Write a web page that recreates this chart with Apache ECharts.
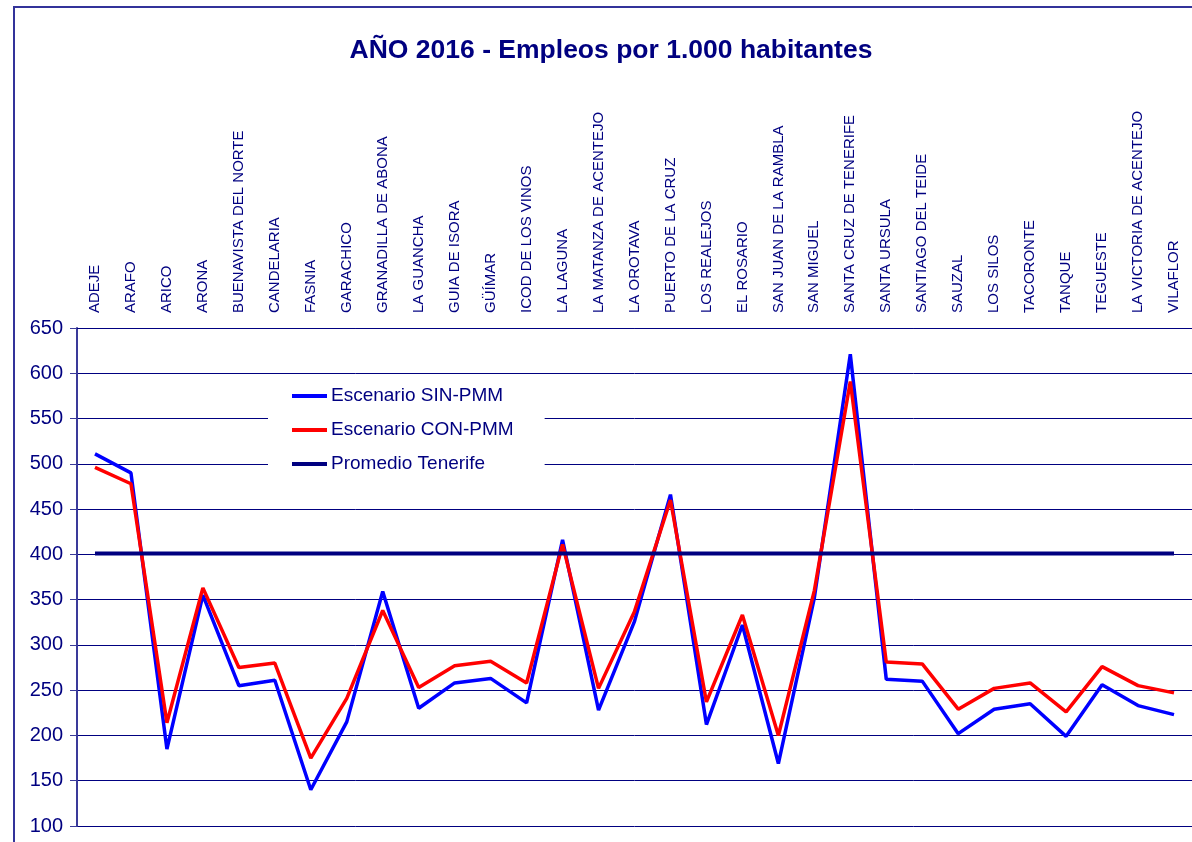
<!DOCTYPE html>
<html>
<head>
<meta charset="utf-8">
<script src="https://cdn.jsdelivr.net/npm/echarts@6/dist/echarts.min.js"></script>
<style>
html,body{margin:0;padding:0;background:#fff;}
#chart{width:1192px;height:842px;}
</style>
</head>
<body>
<div id="chart"></div>
<script>
const categories = ["ADEJE","ARAFO","ARICO","ARONA","BUENAVISTA DEL NORTE","CANDELARIA","FASNIA","GARACHICO","GRANADILLA DE ABONA","LA GUANCHA","GUIA DE ISORA","GÜÍMAR","ICOD DE LOS VINOS","LA LAGUNA","LA MATANZA DE ACENTEJO","LA OROTAVA","PUERTO DE LA CRUZ","LOS REALEJOS","EL ROSARIO","SAN JUAN DE LA RAMBLA","SAN MIGUEL","SANTA CRUZ DE TENERIFE","SANTA URSULA","SANTIAGO DEL TEIDE","SAUZAL","LOS SILOS","TACORONTE","TANQUE","TEGUESTE","LA VICTORIA DE ACENTEJO","VILAFLOR"];
const sinPMM = [511,490,185,355,255,261,140,215,359,230,258,263,236,416,228,326,466,212,322,169,352,621,262,260,202,229,235,199,256,233,223];
const conPMM = [496,478,214,363,275,280,175,241,338,253,277,282,258,411,252,337,460,237,333,200,360,591,281,279,229,252,258,226,276,255,247];
const promedioTenerife = 401;
const promedio = categories.map(() => promedioTenerife);
const seriesNames = ["Escenario SIN-PMM","Escenario CON-PMM","Promedio Tenerife"];
const titleText = "AÑO 2016 - Empleos por 1.000 habitantes";

const navy = '#000080';
const font = "'Liberation Sans', Arial, sans-serif";
const chart = echarts.init(document.getElementById('chart'), null, {renderer: 'canvas'});
chart.setOption({
  animation: false,
  backgroundColor: '#fff',
  title: {
    text: titleText,
    left: 606,
    textAlign: 'center',
    top: 32,
    textStyle: {color: navy, fontFamily: font, fontWeight: 'bold', fontSize: 26.5}
  },
  graphic: [{
    type: 'rect', z: 100, silent: true,
    shape: {x: 14, y: 7, width: 1300, height: 1000},
    style: {fill: 'none', stroke: '#33339a', lineWidth: 2}
  }],
  legend: {
    data: seriesNames,
    orient: 'vertical',
    left: 268, top: 375,
    backgroundColor: '#fff',
    padding: [11, 31, 10, 24],
    itemGap: 14,
    itemWidth: 35, itemHeight: 4,
    icon: 'rect',
    textStyle: {color: navy, fontFamily: font, fontSize: 19, lineHeight: 20, padding: [0,0,0,-1]},
    z: 10
  },
  grid: {left: 77, top: 328, bottom: 16, width: 1116, containLabel: false},
  xAxis: {
    type: 'category',
    position: 'top',
    data: categories,
    boundaryGap: true,
    axisLine: {show: true, lineStyle: {color: navy, width: 1}},
    axisTick: {show: false},
    axisLabel: {rotate: -90, interval: 0, margin: 15, color: navy, fontFamily: font, fontSize: 15}
  },
  yAxis: {
    type: 'value', min: 100, max: 650, interval: 50,
    axisLine: {show: true, lineStyle: {color: '#3a3a9a', width: 2}},
    axisTick: {show: true, length: 7, lineStyle: {color: '#3a3a9a'}},
    axisLabel: {margin: 14, color: navy, fontFamily: font, fontSize: 20},
    splitLine: {show: true, lineStyle: {color: navy, width: 1}}
  },
  series: [
    {name: seriesNames[0], type: 'line', data: sinPMM, showSymbol: false, symbol: 'none',
     lineStyle: {color: '#0000ff', width: 3.5}, itemStyle: {color: '#0000ff'}},
    {name: seriesNames[1], type: 'line', data: conPMM, showSymbol: false, symbol: 'none',
     lineStyle: {color: '#ff0000', width: 3.5}, itemStyle: {color: '#ff0000'}},
    {name: seriesNames[2], type: 'line', data: promedio, showSymbol: false, symbol: 'none',
     lineStyle: {color: navy, width: 4}, itemStyle: {color: navy}}
  ]
});
</script>
</body>
</html>
